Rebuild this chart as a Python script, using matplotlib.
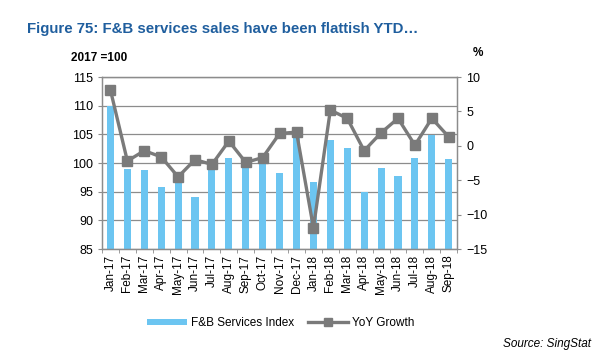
"""F&B services index vs YoY growth: bars on the left axis, line on the right."""

import matplotlib

matplotlib.use("Agg")

import matplotlib.pyplot as plt
import numpy as np

plt.rcParams["font.family"] = ["Liberation Sans", "DejaVu Sans"]

MONTHS = [
    "Jan-17", "Feb-17", "Mar-17", "Apr-17", "May-17", "Jun-17", "Jul-17",
    "Aug-17", "Sep-17", "Oct-17", "Nov-17", "Dec-17", "Jan-18", "Feb-18",
    "Mar-18", "Apr-18", "May-18", "Jun-18", "Jul-18", "Aug-18", "Sep-18",
]
INDEX = [
    110.0, 99.0, 98.8, 95.8, 97.1, 94.0, 99.2, 100.9, 99.6, 100.1, 98.2,
    105.0, 96.7, 104.1, 102.6, 95.0, 99.1, 97.7, 100.9, 104.9, 100.7,
]
YOY = [
    8.1, -2.2, -0.7, -1.6, -4.5, -2.0, -2.7, 0.7, -2.4, -1.7, 1.8,
    2.0, -11.9, 5.2, 4.0, -0.7, 1.9, 4.0, 0.1, 4.0, 1.3,
]

BAR_COLOUR = "#6CC5F1"
LINE_COLOUR = "#7A7A7A"
GRID_COLOUR = "#8C8C8C"
TITLE_COLOUR = "#1F5E9E"

fig = plt.figure(figsize=(6, 3.6), dpi=100)
ax = fig.add_axes([0.17, 0.308, 0.592, 0.478])
x = np.arange(len(MONTHS))

ax.bar(x, INDEX, width=0.42, color=BAR_COLOUR, label="F&B Services Index", zorder=2)
ax.set_ylim(85, 115)
ax.set_yticks(np.arange(85, 116, 5))
ax.set_xlim(-0.5, len(MONTHS) - 0.5)
ax.set_xticks(x)
ax.set_xticklabels(MONTHS, rotation=90, fontsize=8.5)
ax.tick_params(axis="x", length=0, pad=4)
ax.set_xticks(np.arange(-0.5, len(MONTHS), 1), minor=True)
ax.tick_params(axis="x", which="minor", length=3, color=GRID_COLOUR)
ax.tick_params(axis="y", labelsize=9, length=3, color=GRID_COLOUR)
ax.grid(True, axis="y", color=GRID_COLOUR, linewidth=0.9, zorder=0)
ax.set_axisbelow(True)
for side in ("left", "bottom", "top", "right"):
    ax.spines[side].set_color(GRID_COLOUR)
    ax.spines[side].set_linewidth(0.9)

ax2 = ax.twinx()
ax2.plot(
    x, YOY, color=LINE_COLOUR, linewidth=2.4, marker="s", markersize=6.5,
    label="YoY Growth", zorder=3,
)
ax2.set_ylim(-15, 10)
ax2.set_yticks(np.arange(-15, 11, 5))
ax2.tick_params(axis="y", labelsize=9, length=3, color=GRID_COLOUR)
for side in ("left", "bottom", "top", "right"):
    ax2.spines[side].set_color(GRID_COLOUR)
    ax2.spines[side].set_linewidth(0.9)

fig.text(0.045, 0.92, "Figure 75: F&B services sales have been flattish YTD\u2026",
         fontsize=10.8, fontweight="bold", color=TITLE_COLOUR, va="center")
fig.text(0.118, 0.84, "2017 =100", fontsize=8.5, fontweight="bold", va="center")
fig.text(0.788, 0.852, "%", fontsize=8.5, fontweight="bold", va="center")

handles = ax.get_legend_handles_labels()[0] + ax2.get_legend_handles_labels()[0]
labels = ["F&B Services Index", "YoY Growth"]
fig.legend(
    handles, labels, loc="center", bbox_to_anchor=(0.468, 0.103), ncol=2,
    frameon=False, fontsize=8.5, handlelength=3.4, handleheight=0.45,
    columnspacing=1.2, handletextpad=0.3, markerscale=0.8,
)
fig.text(0.985, 0.045, "Source: SingStat", fontsize=8.5, style="italic",
         ha="right", va="center")

fig.savefig("out.png", dpi=100)
